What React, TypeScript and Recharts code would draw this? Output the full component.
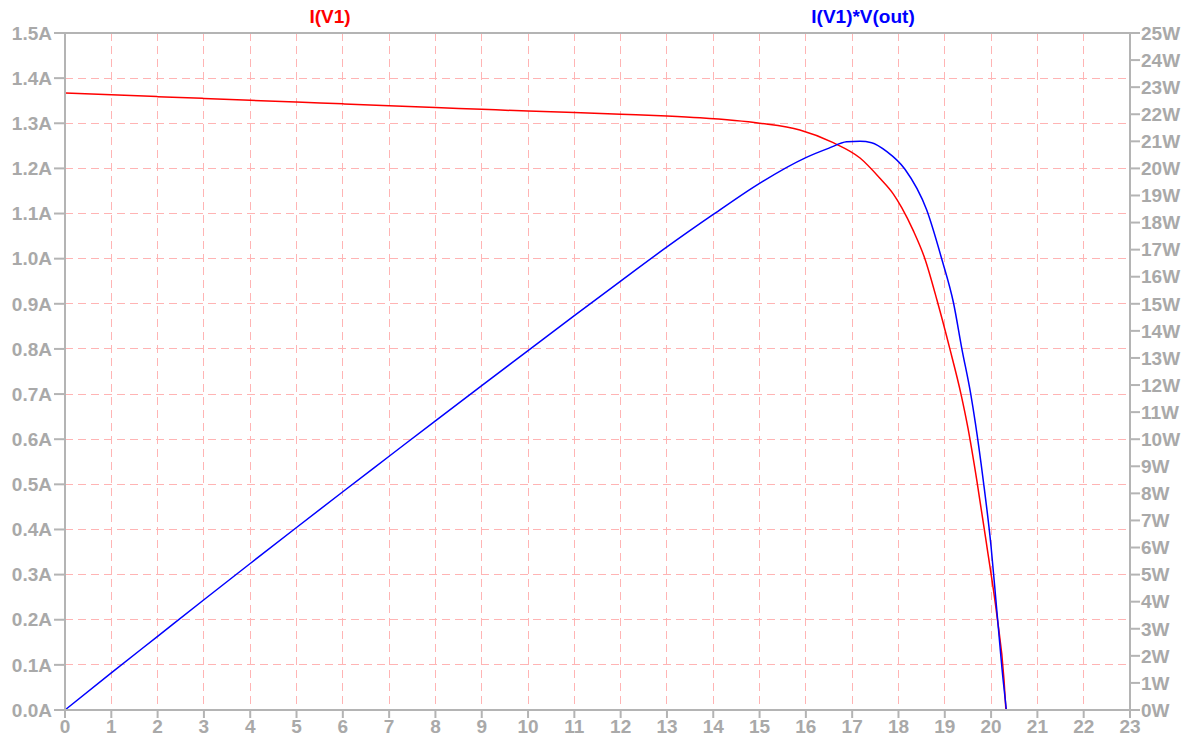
import React from "react";
import { LineChart, Line, XAxis, YAxis, CartesianGrid, ReferenceLine } from "recharts";

const voltageTicks = [0,1,2,3,4,5,6,7,8,9,10,11,12,13,14,15,16,17,18,19,20,21,22,23];
const currentTicks = [0,0.1,0.2,0.3,0.4,0.5,0.6,0.7,0.8,0.9,1.0,1.1,1.2,1.3,1.4,1.5];
const powerTicks = [0,1,2,3,4,5,6,7,8,9,10,11,12,13,14,15,16,17,18,19,20,21,22,23,24,25];

const currentV = [0,1,2,3,4,5,6,7,8,9,10,11,12,13,13.71,15,15.87,16.59,17.17,17.6,17.89,18.07,18.32,18.57,18.84,19.11,19.35,19.5,19.69,19.91,20.12,20.28,20.32];
const currentA = [1.367,1.363,1.359,1.355,1.351,1.347,1.343,1.339,1.335,1.331,1.327,1.324,1.320,1.316,1.312,1.300,1.285,1.257,1.223,1.178,1.143,1.113,1.062,1.000,0.905,0.800,0.700,0.625,0.510,0.362,0.214,0.066,0];

const powerV = [0,1,2,3,4,5,6,7,8,9,10,11,12,13,14,15,16,16.5,16.88,17.17,17.42,17.75,18.14,18.61,18.93,19.19,19.37,19.56,19.66,19.83,20.0,20.12,20.26,20.33];
const powerW = [0,1.37,2.72,4.07,5.41,6.74,8.06,9.37,10.68,11.98,13.27,14.56,15.84,17.1,18.3,19.45,20.4,20.75,20.98,21.0,20.95,20.62,19.97,18.46,16.68,15.02,13.33,11.67,10.6,8.49,6.03,3.75,1.11,0];

const currentData = currentV.map((v, i) => ({ v, a: currentA[i] }));
const powerData = powerV.map((v, i) => ({ v, w: powerW[i] }));

const axisColor = "#b4b4b4";
const labelColor = "#a9a9a9";
const tickFont = { fontFamily: "Liberation Sans, Arial, sans-serif", fontWeight: 700, fontSize: 19, fill: labelColor };

export default function App() {
  return (
    <div style={{ position: "relative", width: 1178, height: 733 }}>
      <LineChart width={1178} height={733} margin={{ top: 25, right: 0, bottom: 0, left: 0 }}>
        <CartesianGrid
          yAxisId="left"
          stroke="#ffb4b4"
          strokeDasharray="8 5"
          shapeRendering="crispEdges"
          horizontalValues={currentTicks}
          verticalValues={voltageTicks}
        />
        <XAxis
          type="number"
          dataKey="v"
          domain={[0, 23]}
          ticks={voltageTicks}
          interval={0}
          height={31}
          tickSize={8}
          tickMargin={2}
          stroke={axisColor}
          strokeWidth={2}
          tick={tickFont}
          allowDuplicatedCategory={false}
        />
        <YAxis
          yAxisId="left"
          orientation="left"
          domain={[0, 1.5]}
          ticks={currentTicks}
          interval={0}
          width={57}
          tickSize={11}
          tickMargin={2}
          stroke={axisColor}
          strokeWidth={2}
          tick={tickFont}
          tickFormatter={(t: number) => t.toFixed(1) + "A"}
        />
        <YAxis
          yAxisId="right"
          orientation="right"
          domain={[0, 25]}
          ticks={powerTicks}
          interval={0}
          width={56}
          tickSize={10}
          tickMargin={1}
          stroke={axisColor}
          strokeWidth={2}
          tick={tickFont}
          tickFormatter={(t: number) => t + "W"}
        />
        <ReferenceLine yAxisId="left" y={1.5} stroke={axisColor} strokeWidth={2} />
        <Line
          yAxisId="left"
          data={currentData}
          dataKey="a"
          type="monotone"
          stroke="#ff0000"
          strokeWidth={1.5}
          dot={false}
          isAnimationActive={false}
        />
        <Line
          yAxisId="right"
          data={powerData}
          dataKey="w"
          type="monotone"
          stroke="#0000ff"
          strokeWidth={1.5}
          dot={false}
          isAnimationActive={false}
        />
      </LineChart>
      <div style={{ position: "absolute", left: 298, top: -2, width: 48, textAlign: "center", color: "#ff0000", fontFamily: "Liberation Sans, Arial, sans-serif", fontWeight: 700, fontSize: 19 }}>I(V1)</div>
      <div style={{ position: "absolute", left: 783, top: -2, width: 144, textAlign: "center", color: "#0000ff", fontFamily: "Liberation Sans, Arial, sans-serif", fontWeight: 700, fontSize: 19 }}>I(V1)*V(out)</div>
    </div>
  );
}
